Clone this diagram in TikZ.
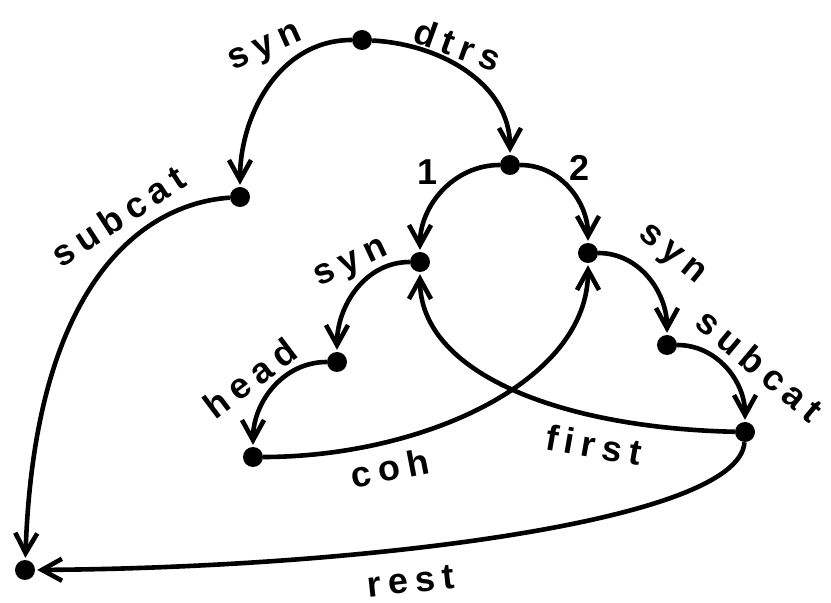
\documentclass[tikz,border=0pt]{standalone}
\usepackage{fontspec}
\newfontfamily\labfont[LetterSpace=20]{Liberation Sans}
\usetikzlibrary{arrows.meta}
\tikzset{
  dot/.style={circle,fill=black,inner sep=0pt,minimum size=20pt},
  arr/.style={line width=4.6pt,-{Straight Barb[length=20pt,width=22pt]},shorten >=2pt},
  lab/.style={font=\labfont\bfseries\fontsize{36}{36}\selectfont,inner sep=0pt}
}
\begin{document}
\begin{tikzpicture}[x=1pt,y=1pt]
\useasboundingbox (0,0) rectangle (831,603);
% nodes
\node[dot] (T) at (362,563) {};
\node[dot] (A) at (240,406) {};
\node[dot] (D) at (510,438) {};
\node[dot] (N1) at (420,341) {};
\node[dot] (N2) at (588,350) {};
\node[dot] (H) at (337,241) {};
\node[dot] (C) at (253,146) {};
\node[dot] (R1) at (667,258) {};
\node[dot] (R2) at (745,171) {};
\node[dot] (L) at (25,33) {};
% edges
\draw[arr] (T) to[out=180,in=90] (A);
\draw[arr] (T) to[out=-3,in=90] (D);
\draw[arr] (D) to[out=180,in=90] (N1);
\draw[arr] (D) to[out=0,in=90] (N2);
\draw[arr] (N1) to[out=180,in=90] (H);
\draw[arr] (H) to[out=180,in=90] (C);
\draw[arr] (N2) to[out=0,in=90] (R1);
\draw[arr] (R1) to[out=0,in=90] (R2);
\draw[arr] (C) .. controls (420,146) and (588,220) .. (N2);
\draw[arr] (R2) .. controls (560,175) and (420,230) .. (N1);
\draw[arr] (R2) .. controls (740,80) and (350,35) .. (L);
\draw[arr] (A) .. controls (150,400) and (35,330) .. (L);
% labels
\node[lab,rotate=24] (l1) at (266,553) {syn};
\node[lab,rotate=-20] (l2) at (458,558) {dtrs};
\node[lab,rotate=33] (l3) at (118,387) {subcat};
\node[lab] (l4) at (428,431) {1};
\node[lab] (l5) at (580,435) {2};
\node[lab,rotate=25] (l6) at (352,338) {syn};
\node[lab,rotate=37] (l7) at (250,225) {head};
\node[lab,rotate=11] (l8) at (390,135) {coh};
\node[lab,rotate=-10] (l9) at (594,158) {first};
\node[lab,rotate=-39] (l10) at (671,347) {syn};
\node[lab,rotate=-40] (l11) at (760,238) {subcat};
\node[lab,rotate=6] (l12) at (411,22) {rest};
\end{tikzpicture}
\end{document}
